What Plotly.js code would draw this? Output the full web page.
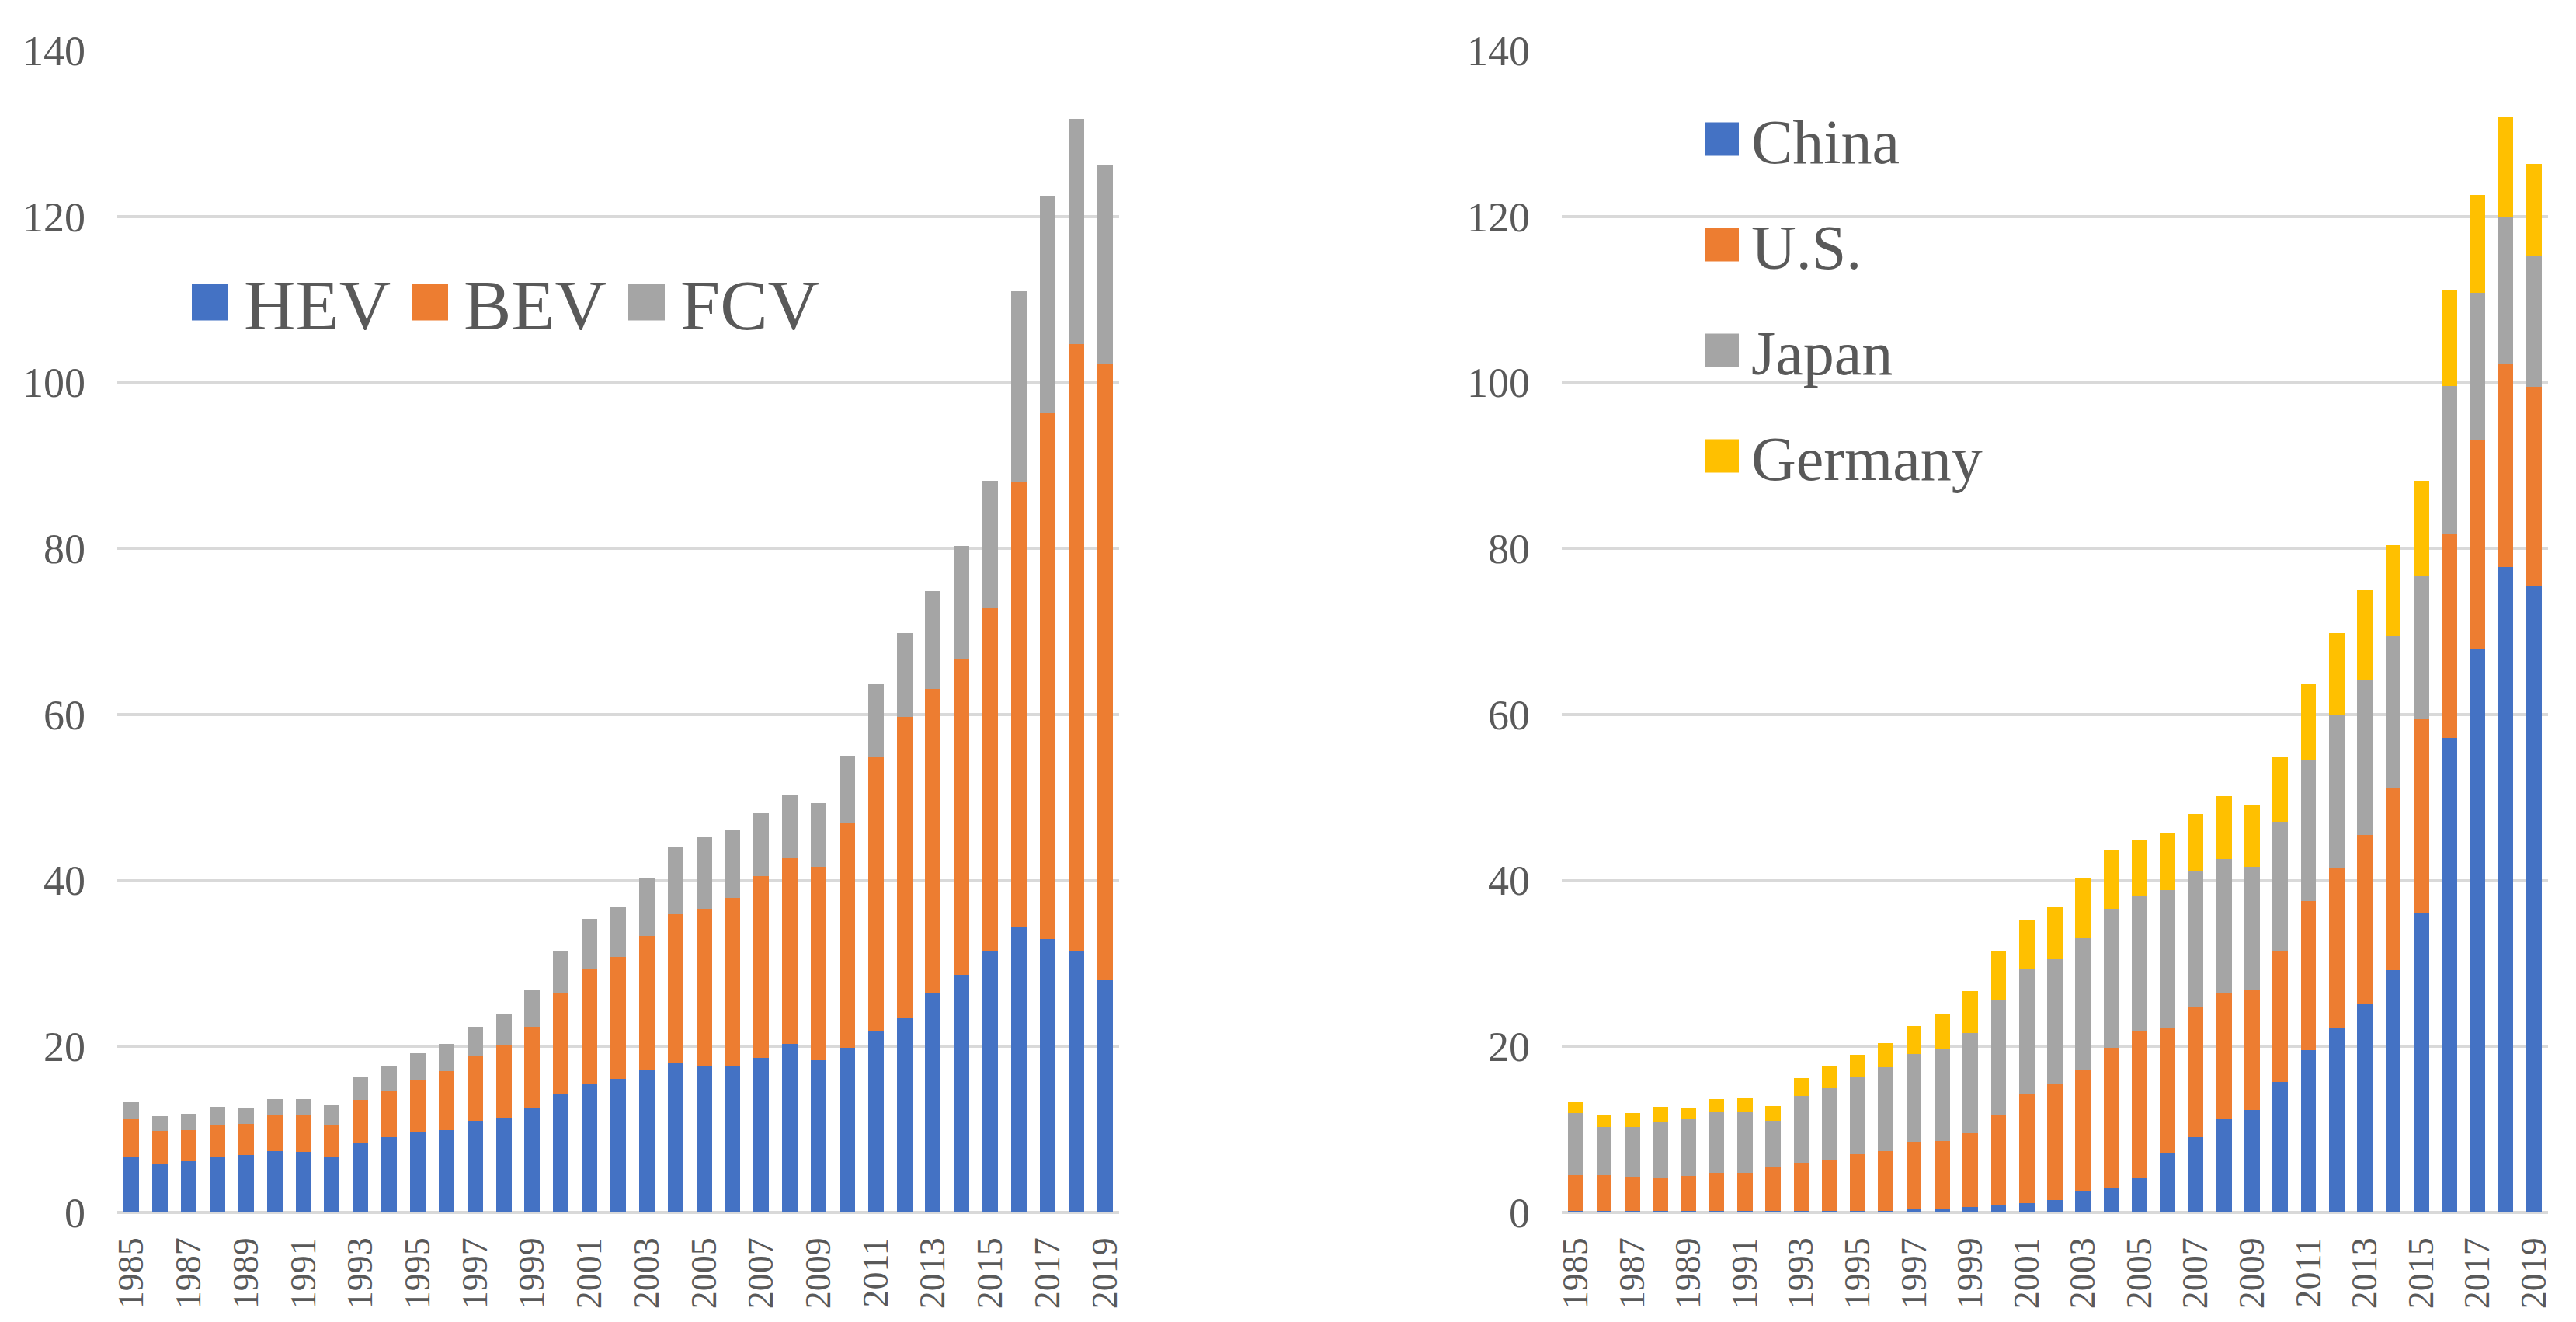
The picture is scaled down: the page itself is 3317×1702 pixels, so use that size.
<!DOCTYPE html>
<html>
<head>
<meta charset="utf-8">
<script src="https://cdn.plot.ly/plotly-3.0.1.min.js"></script>
<style>
  html, body { margin: 0; padding: 0; background: #fff; }
  #chart { width: 3317px; height: 1702px; }
</style>
</head>
<body>
<div id="chart"></div>
<script>
// years on both charts
var years = [];
for (var yr = 1985; yr <= 2019; yr++) years.push(String(yr));

// left chart: by vehicle type
var hev = [6.6, 5.8, 6.2, 6.6, 6.9, 7.4, 7.3, 6.6, 8.4, 9.1, 9.6, 9.9, 11.0, 11.3, 12.6, 14.3, 15.4, 16.1,
           17.2, 18.1, 17.6, 17.6, 18.6, 20.3, 18.3, 19.8, 21.9, 23.4, 26.5, 28.6, 31.4, 34.4, 32.9, 31.4, 28.0];
var bev = [4.6, 4.0, 3.7, 3.9, 3.8, 4.3, 4.4, 4.0, 5.2, 5.6, 6.4, 7.1, 7.9, 8.8, 9.8, 12.1, 14.0, 14.7,
           16.1, 17.8, 19.0, 20.3, 21.9, 22.4, 23.3, 27.2, 32.9, 36.3, 36.6, 38.0, 41.4, 53.6, 63.4, 73.2, 74.2];
var fcv = [2.1, 1.8, 2.0, 2.2, 1.9, 2.0, 2.0, 2.4, 2.7, 3.0, 3.2, 3.3, 3.5, 3.8, 4.4, 5.0, 6.0, 6.0,
           6.9, 8.2, 8.6, 8.1, 7.6, 7.6, 7.7, 8.0, 8.9, 10.1, 11.8, 13.7, 15.4, 23.0, 26.2, 27.2, 24.0];

// right chart: by country
var china   = [0.2, 0.2, 0.2, 0.2, 0.2, 0.2, 0.2, 0.2, 0.2, 0.2, 0.2, 0.2, 0.4, 0.5, 0.7, 0.8, 1.1, 1.5,
               2.6, 2.9, 4.1, 7.2, 9.1, 11.2, 12.4, 15.7, 19.6, 22.3, 25.2, 29.2, 36.0, 57.2, 67.9, 77.8, 75.5];
var us      = [4.3, 4.3, 4.1, 4.0, 4.2, 4.6, 4.6, 5.2, 5.8, 6.1, 6.8, 7.2, 8.1, 8.1, 8.8, 10.9, 13.2, 13.9,
               14.6, 16.9, 17.8, 15.0, 15.6, 15.3, 14.5, 15.7, 17.9, 19.2, 20.3, 21.9, 23.4, 24.6, 25.2, 24.5, 24.0];
var japan   = [7.5, 5.8, 6.0, 6.7, 6.8, 7.3, 7.4, 5.6, 8.0, 8.7, 9.3, 10.1, 10.6, 11.1, 12.1, 13.9, 15.0, 15.1,
               15.9, 16.8, 16.3, 16.6, 16.5, 16.1, 14.7, 15.7, 17.1, 18.4, 18.7, 18.3, 17.3, 17.8, 17.7, 17.6, 15.7];
var germany = [1.3, 1.4, 1.7, 1.8, 1.3, 1.6, 1.6, 1.8, 2.2, 2.6, 2.7, 2.9, 3.4, 4.3, 5.1, 5.8, 6.0, 6.3,
               7.2, 7.1, 6.7, 7.0, 6.8, 7.6, 7.5, 7.7, 9.1, 9.9, 10.8, 11.0, 11.5, 11.6, 11.8, 12.1, 11.1];

var typeNames = ["HEV", "BEV", "FCV"];
var countryNames = ["China", "U.S.", "Japan", "Germany"];
var yTicks = [0, 20, 40, 60, 80, 100, 120, 140];
var xTicks = years.filter(function (y, i) { return i % 2 === 0; });

var colors = ["#4472C4", "#ED7D31", "#A5A5A5", "#FFC000"];
var textColor = "#595959";
var serif = "Liberation Serif, Times New Roman, serif";

// pixel frame of the page
var W = 3317, H = 1702;
var plotTop = 65, plotBottom = 1561;

function px(x) { return x / W; }
function py(y) { return (plotBottom - y) / (plotBottom - plotTop); }

var data = [];
[hev, bev, fcv].forEach(function (vals, i) {
  data.push({ type: "bar", x: years, y: vals, name: typeNames[i], xaxis: "x", yaxis: "y",
              marker: { color: colors[i] }, showlegend: false });
});
[china, us, japan, germany].forEach(function (vals, i) {
  data.push({ type: "bar", x: years, y: vals, name: countryNames[i], xaxis: "x2", yaxis: "y2",
              marker: { color: colors[i] }, showlegend: false });
});

function xAxis(dom, anchor) {
  return {
    domain: dom, anchor: anchor, type: "category",
    tickmode: "array", tickvals: xTicks, ticktext: xTicks,
    tickangle: -90, ticks: "", ticklabelstandoff: 22,
    tickfont: { family: serif, size: 46, color: textColor },
    showgrid: false, showline: false, zeroline: false,
    range: [-0.5, years.length - 0.5]
  };
}
function yAxis(anchor) {
  return {
    anchor: anchor, range: [0, 140],
    tickmode: "array", tickvals: yTicks,
    ticks: "", ticklabelstandoff: 40,
    tickfont: { family: serif, size: 54, color: textColor },
    showgrid: true, gridcolor: "#d9d9d9", gridwidth: 4,
    zeroline: true, zerolinecolor: "#d9d9d9", zerolinewidth: 4,
    showline: false
  };
}

// hand-drawn legends (big square keys as in the source)
var shapes = [], annotations = [];

// left: one row
var leftKeys = [247, 530, 809], keySize = 47, rowY = 389;
typeNames.forEach(function (name, i) {
  var x0 = leftKeys[i];
  shapes.push({ type: "rect", xref: "paper", yref: "paper",
    x0: px(x0), x1: px(x0 + keySize), y0: py(rowY + keySize / 2), y1: py(rowY - keySize / 2),
    fillcolor: colors[i], line: { width: 0 } });
  annotations.push({ xref: "paper", yref: "paper", x: px(x0 + keySize + 18), y: py(rowY + 4),
    xanchor: "left", yanchor: "middle", showarrow: false, text: name,
    font: { family: serif, size: 92, color: textColor } });
});

// right: one column
var rightKeyX = 2196, rightKey = 43, firstRow = 179, rowStep = 136;
countryNames.forEach(function (name, i) {
  var cy = firstRow + i * rowStep;
  shapes.push({ type: "rect", xref: "paper", yref: "paper",
    x0: px(rightKeyX), x1: px(rightKeyX + rightKey), y0: py(cy + rightKey / 2), y1: py(cy - rightKey / 2),
    fillcolor: colors[i], line: { width: 0 } });
  annotations.push({ xref: "paper", yref: "paper", x: px(rightKeyX + rightKey + 14), y: py(cy + 4),
    xanchor: "left", yanchor: "middle", showarrow: false, text: name,
    font: { family: serif, size: 80, color: textColor } });
});

var layout = {
  width: W, height: H,
  margin: { l: 0, r: 0, t: plotTop, b: H - plotBottom },
  paper_bgcolor: "#fff", plot_bgcolor: "rgba(0,0,0,0)",
  barmode: "stack", bargap: 0.46,
  xaxis: xAxis([px(151), px(1441)], "y"),
  yaxis: yAxis("x"),
  xaxis2: xAxis([px(2011), px(3281)], "y2"),
  yaxis2: yAxis("x2"),
  shapes: shapes,
  annotations: annotations,
  showlegend: false
};

Plotly.newPlot("chart", data, layout, { staticPlot: true });
</script>
</body>
</html>
